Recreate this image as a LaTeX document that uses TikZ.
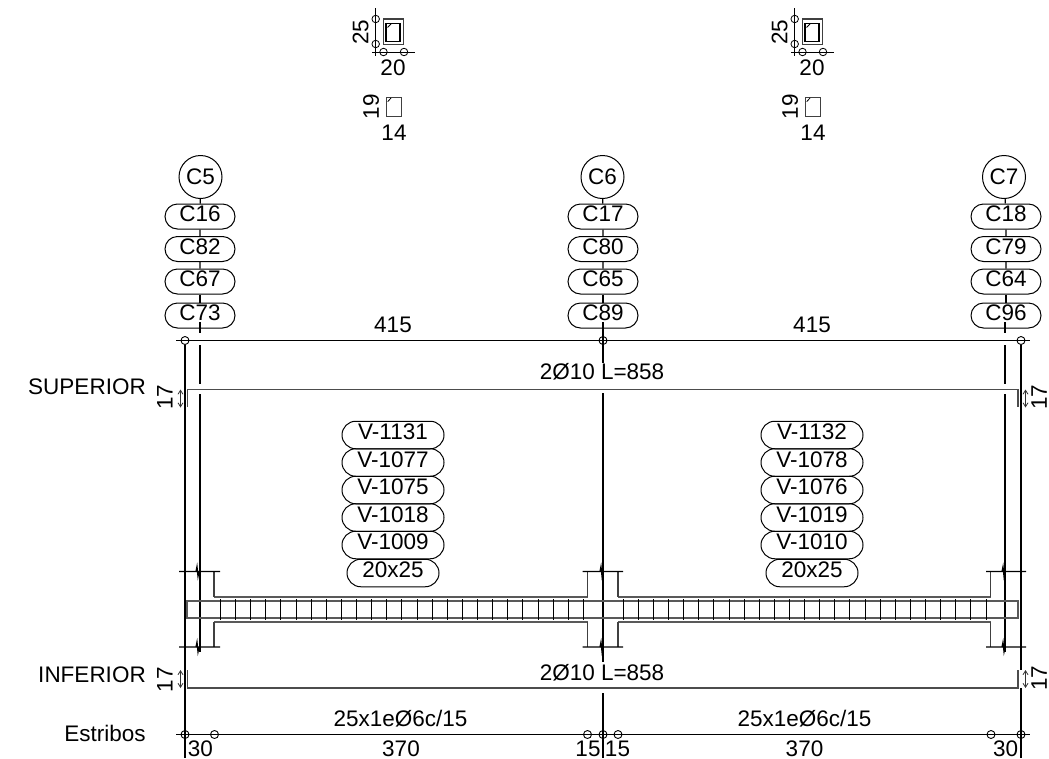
\documentclass[tikz,border=0pt]{standalone}
\usepackage{fontspec}
\setmainfont{Liberation Sans}
\usetikzlibrary{shapes.misc,arrows.meta}
\tikzset{
  every node/.style={font=\fontsize{22.5}{24}\selectfont,inner sep=0pt},
  colpill/.style={draw,rounded rectangle,minimum width=70,minimum height=25,text height=16,text depth=5.5,line width=1},
  beampill/.style={draw,rounded rectangle,minimum width=102,minimum height=27.5,text height=16,text depth=6.5,line width=1},
  sizepill/.style={beampill,minimum width=92},
  colcircle/.style={draw,circle,minimum size=43,line width=1},
  dimcircle/.style={draw,circle,minimum size=8,line width=0.9},
  smallcircle/.style={draw,circle,minimum size=7.5,line width=0.8},
  axisline/.style={black,line width=2},
  dimline/.style={black,line width=1.2},
  rebar/.style={black!70,line width=1.8},
  concrete/.style={black!75,line width=1.2},
  heavy/.style={black!65,line width=2},
  stirrup/.style={black,line width=1.6},
  twoarrow/.style={black!80,line width=0.8,{Straight Barb[length=4,width=5]}-{Straight Barb[length=4,width=5]}}
}
\begin{document}
\begin{tikzpicture}[x=1pt,y=-1pt]
\useasboundingbox (0,0) rectangle (1049,758);
% sections above the beam
\foreach \sx in {0,419} {
\begin{scope}[xshift=\sx]
\draw [dimline,line width=0.9] (375.7,8) -- (375.7,56);
\draw [dimline,line width=0.9] (372,52) -- (415,52);
\node [smallcircle] (secA\sx) at (375.7,19) {};
\node [smallcircle] (secB\sx) at (375.7,44) {};
\node [smallcircle] (secC\sx) at (383.5,52) {};
\node [smallcircle] (secD\sx) at (404,52) {};
\draw [concrete] (383.3,19) rectangle (403.3,44.3);
\draw [black,line width=1.5] (386,23.5) rectangle (400,41.5);
\draw [black,line width=1] (387.5,27.5) -- (391,24);
\node [rotate=90] (secH\sx) at (360.5,32) {25};
\node (secW\sx) at (393,68) {20};
\draw [concrete,line width=0.9] (386.3,97.3) rectangle (401,116.7);
\draw [black,line width=0.8] (387.7,101.7) -- (391,98);
\node [rotate=90] (smallH\sx) at (371,106.5) {19};
\node (smallW\sx) at (394,132.5) {14};
\end{scope}
}
% column stacks
\node [colcircle] (c5) at (200.5,177) {C5};
\node [colpill] (c16) at (200,216.5) {C16};
\node [colpill] (c82) at (200,249) {C82};
\node [colpill] (c67) at (200,281.5) {C67};
\node [colpill] (c73) at (200,315.5) {C73};
\node [colcircle] (c6) at (602.5,177) {C6};
\node [colpill] (c17) at (603,216.5) {C17};
\node [colpill] (c80) at (603,249) {C80};
\node [colpill] (c65) at (603,281.5) {C65};
\node [colpill] (c89) at (603,315.5) {C89};
\node [colcircle] (c7) at (1004,177) {C7};
\node [colpill] (c18) at (1006,216.5) {C18};
\node [colpill] (c79) at (1006,249) {C79};
\node [colpill] (c64) at (1006,281.5) {C64};
\node [colpill] (c96) at (1006,315.5) {C96};
\draw [dimline] (c5) -- (c16);
\draw [dimline] (c16) -- (c82);
\draw [dimline] (c82) -- (c67);
\draw [dimline] (c67) -- (c73);
\draw [dimline] (c6) -- (c17);
\draw [dimline] (c17) -- (c80);
\draw [dimline] (c80) -- (c65);
\draw [dimline] (c65) -- (c89);
\draw [dimline] (c7) -- (c18);
\draw [dimline] (c18) -- (c79);
\draw [dimline] (c79) -- (c64);
\draw [dimline] (c64) -- (c96);
% top dimension
\draw [dimline] (176,340.5) -- (1030,340.5);
\node [dimcircle] (topA) at (185,340.5) {};
\node [dimcircle] (topB) at (603,340.5) {};
\node [dimcircle] (topC) at (1021,340.5) {};
\node (spanA) at (393,325) {415};
\node (spanB) at (812,325) {415};
% axes
\coordinate (baseA) at (185,758);
\coordinate (baseB) at (603,758);
\coordinate (gapA) at (603,322);
\coordinate (gapB) at (603,363);
\coordinate (gapC) at (603,393);
\coordinate (gapD) at (603,662);
\coordinate (gapE) at (603,693);
\coordinate (gapF) at (1021,670);
\coordinate (gapG) at (1021,688);
\coordinate (baseC) at (1021,758);
\draw [axisline] (topA) -- (baseA);
\draw [axisline] (gapA) -- (gapB);
\draw [axisline] (gapC) -- (gapD);
\draw [axisline] (gapE) -- (baseB);
\draw [axisline] (topC) -- (gapF);
\draw [axisline] (gapG) -- (baseC);
\draw [axisline] (200,322) -- (200,333);
\draw [axisline] (200,345) -- (200,384);
\draw [axisline] (200,394) -- (200,652);
\draw [axisline] (1005,322) -- (1005,333);
\draw [axisline] (1005,345) -- (1005,384);
\draw [axisline] (1005,394) -- (1005,652);
% longitudinal bars
\draw [rebar] (187.5,407) -- (187.5,389.5) -- (1018,389.5) -- (1018,407);
\draw [rebar] (187.5,670) -- (187.5,688) -- (1018,688) -- (1018,670);
\node (barTop) at (602,372) {2Ø10 L=858};
\node (barBot) at (602,673) {2Ø10 L=858};
% beam
\draw [heavy] (187,601) rectangle (1018,617.5);
\draw [heavy] (214,596.5) -- (587.5,596.5);
\draw [heavy] (618,596.5) -- (990.5,596.5);
\draw [heavy] (214,622) -- (587.5,622);
\draw [heavy] (618,622) -- (990.5,622);
\foreach \jx/\jy in {214/571.5,587.5/571.5,618/571.5,990.5/571.5} {
\draw [concrete] (\jx,596.5) -- (\jx,\jy);
\draw [concrete] (\jx,622) -- (\jx,647);
}
\foreach \ky in {571.5,647} {
\draw [dimline] (179,\ky) -- (196,\ky) -- (197,\ky-5) -- (198,\ky+5) -- (199,\ky) -- (220,\ky);
\draw [dimline] (582.5,\ky) -- (600,\ky) -- (601,\ky-5) -- (602,\ky+5) -- (603,\ky) -- (623,\ky);
\draw [dimline] (986,\ky) -- (1002,\ky) -- (1003,\ky-5) -- (1004,\ky+5) -- (1005,\ky) -- (1026,\ky);
}
\foreach \i in {0,...,24} {
\draw [stirrup] ({round(220+15.12*\i)+0.5},599) -- ({round(220+15.12*\i)+0.5},619.5);
\draw [stirrup] ({round(622.7+15.12*\i)+0.5},599) -- ({round(622.7+15.12*\i)+0.5},619.5);
}
% beam labels
\node [beampill] (v1131) at (393,435) {V-1131};
\node [beampill] (v1077) at (393,462.5) {V-1077};
\node [beampill] (v1075) at (393,490) {V-1075};
\node [beampill] (v1018) at (393,517.5) {V-1018};
\node [beampill] (v1009) at (393,545) {V-1009};
\node [sizepill] (sizeA) at (393,573) {20x25};
\node [beampill] (v1132) at (812,435) {V-1132};
\node [beampill] (v1078) at (812,462.5) {V-1078};
\node [beampill] (v1076) at (812,490) {V-1076};
\node [beampill] (v1019) at (812,517.5) {V-1019};
\node [beampill] (v1010) at (812,545) {V-1010};
\node [sizepill] (sizeB) at (812,573) {20x25};
% side labels
\node (supLabel) at (87,387) {SUPERIOR};
\node (infLabel) at (92,675) {INFERIOR};
\node (estLabel) at (105,733) {Estribos};
\node [rotate=90] (hookA) at (165,397) {17};
\node [rotate=90] (hookB) at (1039,397) {17};
\node [rotate=90] (hookC) at (165,679.5) {17};
\node [rotate=90] (hookD) at (1039,678) {17};
\draw [twoarrow] (180.5,389.5) -- (180.5,407.5);
\draw [twoarrow] (1025.5,389.5) -- (1025.5,407.5);
\draw [twoarrow] (180.5,670) -- (180.5,688);
\draw [twoarrow] (1025.5,670) -- (1025.5,688);
% stirrup dimension
\draw [dimline] (176,734.5) -- (1030,734.5);
\foreach \dx in {185,214.5,587.5,603,618,991,1021} {
\node [dimcircle] (est\dx) at (\dx,734.5) {};
}
\node (stirA) at (400.5,719) {25x1eØ6c/15};
\node (stirB) at (804.5,719) {25x1eØ6c/15};
\node (lenA) at (200.5,749) {30};
\node (lenB) at (401,749) {370};
\node (lenC) at (588,749) {15};
\node (lenD) at (617.5,749) {15};
\node (lenE) at (804.5,749) {370};
\node (lenF) at (1005.5,749) {30};
\end{tikzpicture}
\end{document}
